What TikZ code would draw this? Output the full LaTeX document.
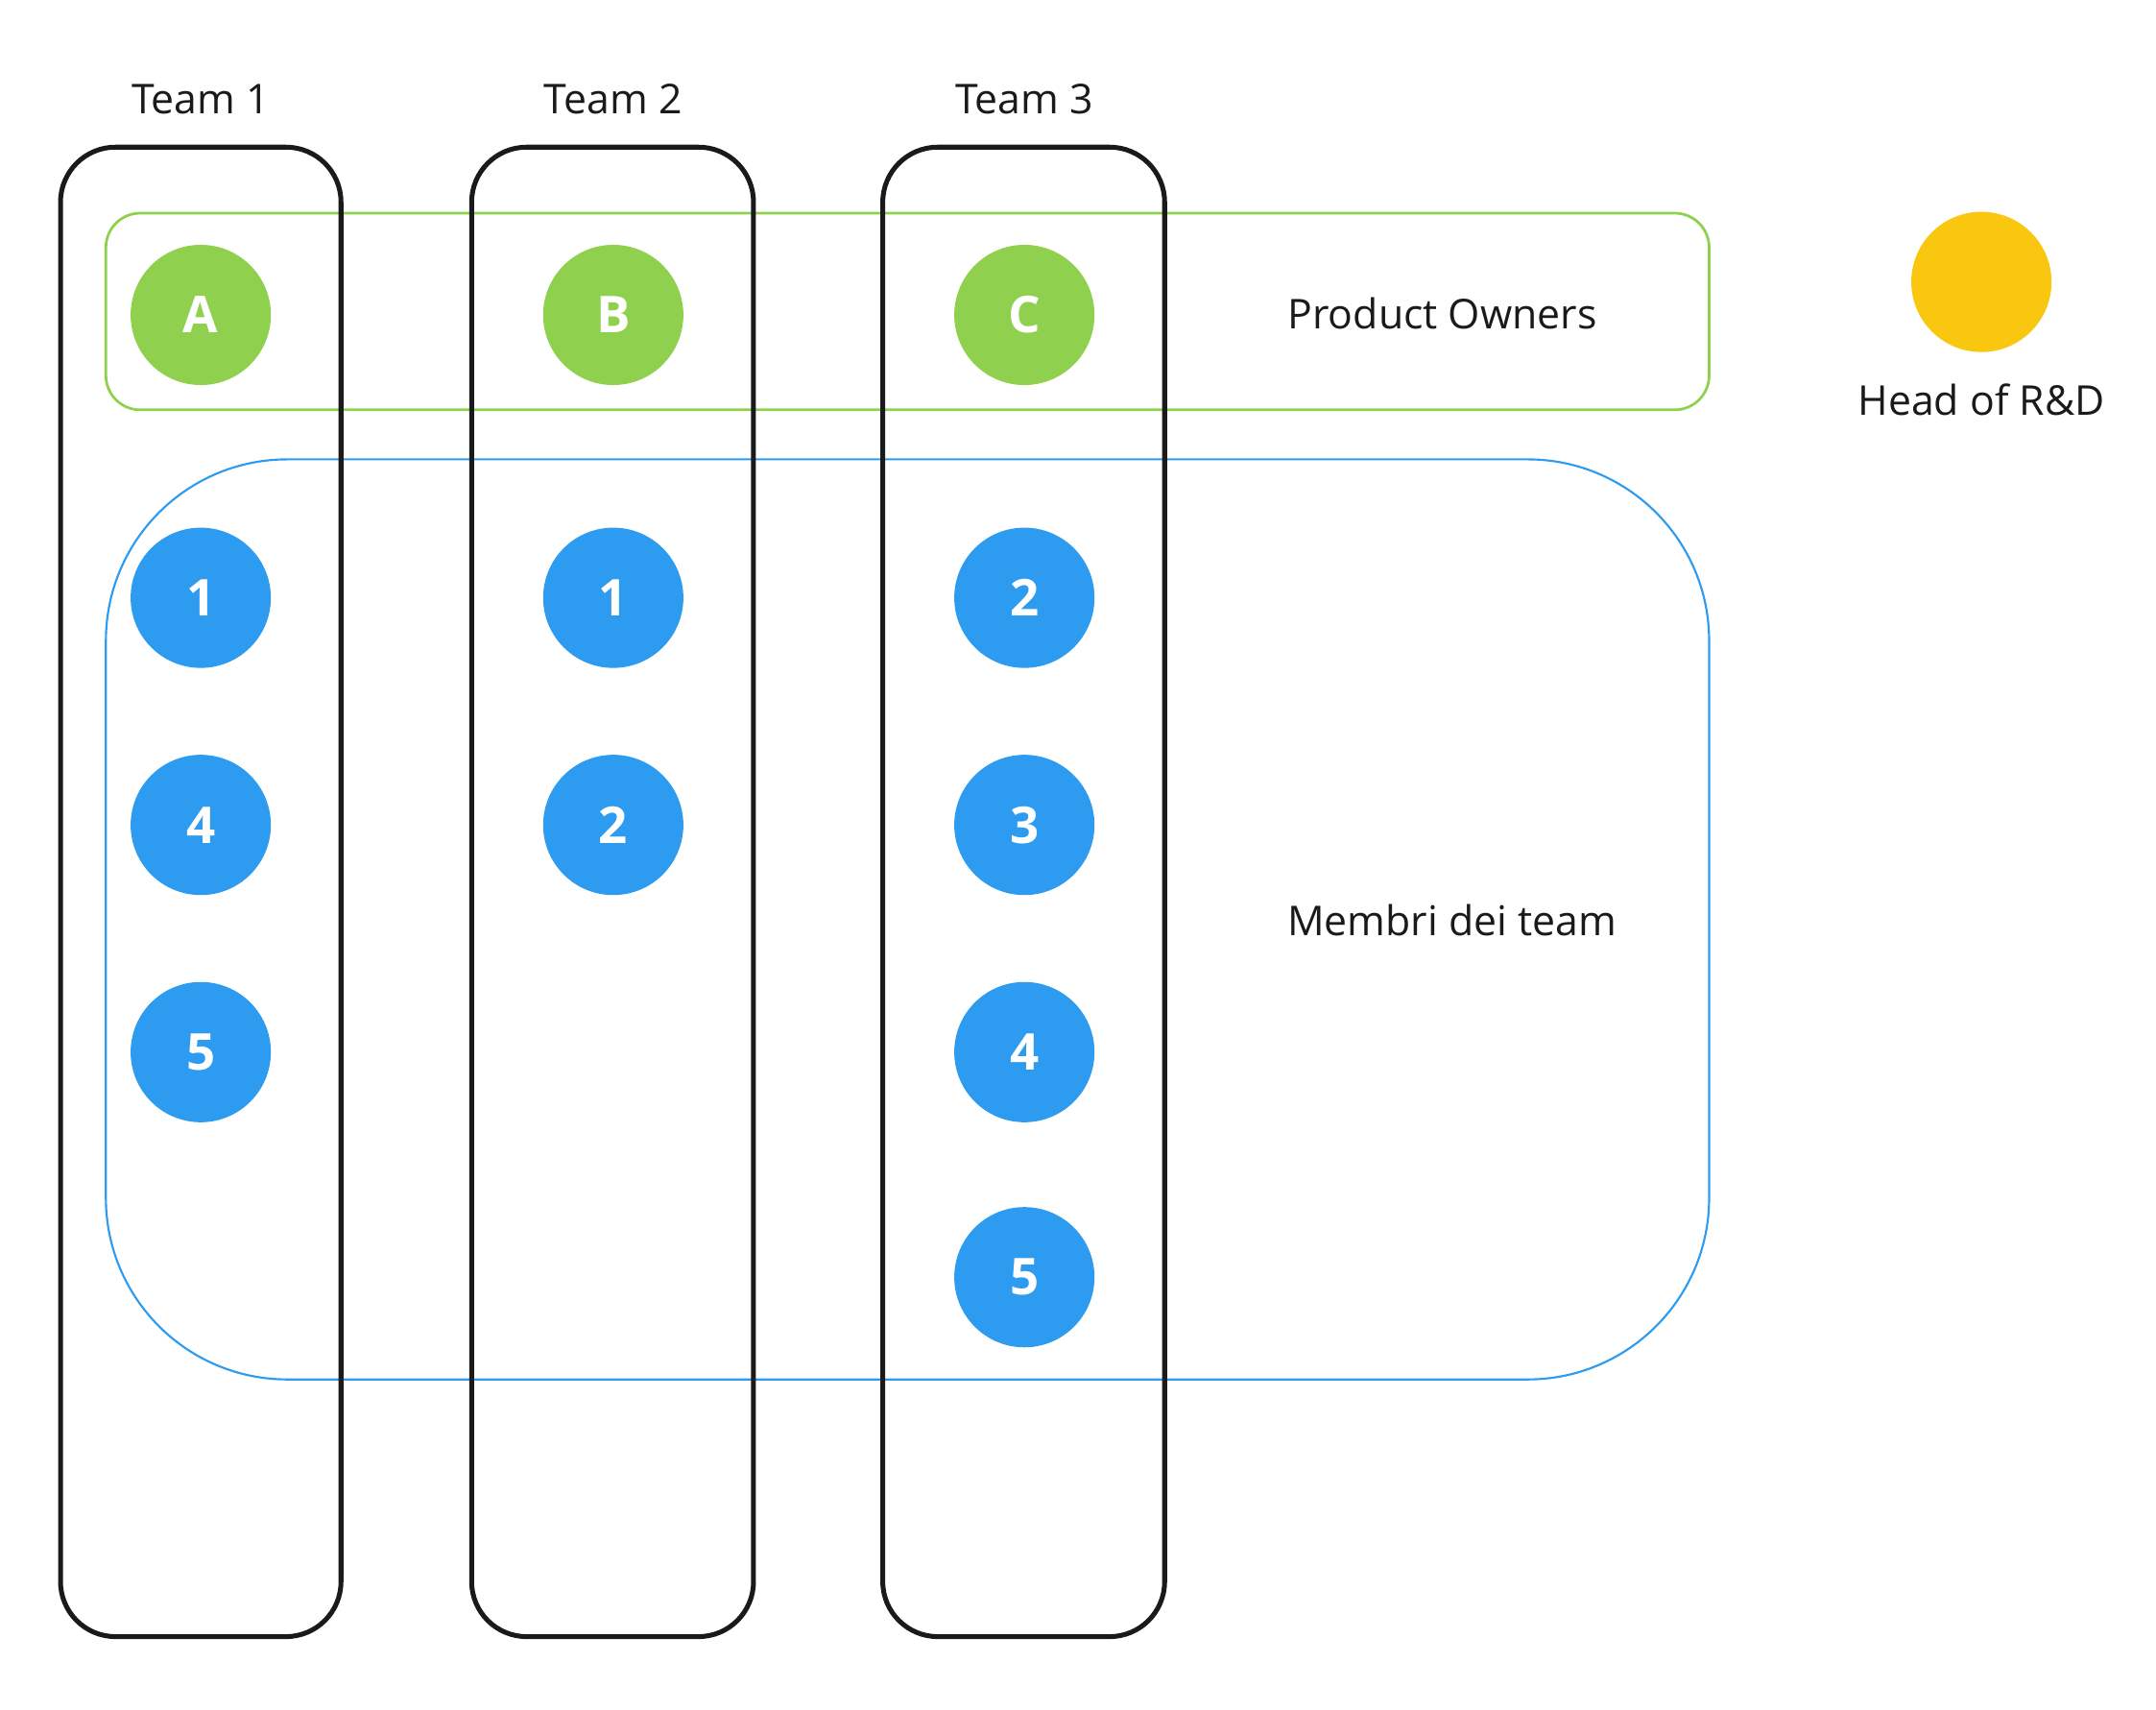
\documentclass[tikz,border=0pt]{standalone}
\usepackage{fontspec}
\setmainfont{Open Sans}
\usetikzlibrary{positioning}
\definecolor{poGreen}{HTML}{8FD14F}
\definecolor{teamBlue}{HTML}{2D9BF0}
\definecolor{headYellow}{HTML}{FAC710}
\definecolor{boxBlack}{HTML}{1A1A1A}
\tikzset{
        member/.style={circle, fill=teamBlue, minimum size=2.04cm, inner sep=0pt,
          text=white, font=\fontsize{21}{25}\selectfont\bfseries},
        owner/.style={member, fill=poGreen},
        head/.style={member, fill=headYellow},
        team box/.style={draw=boxBlack, line width=2pt, rounded corners=0.8cm},
        label text/.style={font=\fontsize{17}{20}\selectfont, text=boxBlack},
}
\begin{document}
\begin{tikzpicture}[x=0.02cm, y=-0.02cm]
      \useasboundingbox (0,0) rectangle (1568,1243);
      % GROUPS
      \draw[poGreen, line width=1.1pt, rounded corners=0.5cm] (77,155) rectangle (1243,298);
      \draw[teamBlue, line width=0.85pt, rounded corners=2.64cm] (77,334) rectangle (1243,1003);
      \node[label text] (po) at (1049,228) {Product Owners};
      \node[label text] (members) at (1056,669) {Membri dei team};

      % TEAM COLUMNS
      \draw[team box] (44,107) rectangle (248,1190);
      \draw[team box] (343,107) rectangle (548,1190);
      \draw[team box] (642,107) rectangle (847,1190);
      \node[label text] (team1) at (146,72) {Team 1};
      \node[label text] (team2) at (446,72) {Team 2};
      \node[label text] (team3) at (745,72) {Team 3};

      % PRODUCT OWNERS
      \node[owner] (ownerA) at (146,229) {A};
      \node[owner] (ownerB) at (446,229) {B};
      \node[owner] (ownerC) at (745,229) {C};

      % team 1 members
      \node[member, below=2.06cm of ownerA] (t1m1) {1};
      \node[member, below=1.25cm of t1m1] (t1m4) {4};
      \node[member, below=1.25cm of t1m4] (t1m5) {5};
      % team 2 members
      \node[member, below=2.06cm of ownerB] (t2m1) {1};
      \node[member, below=1.25cm of t2m1] (t2m2) {2};
      % team 3 members
      \node[member, below=2.06cm of ownerC] (t3m2) {2};
      \node[member, below=1.25cm of t3m2] (t3m3) {3};
      \node[member, below=1.25cm of t3m3] (t3m4) {4};
      \node[member, below=1.22cm of t3m4] (t3m5) {5};

      % HEAD OF R&D
      \node[head] (head) at (1441,205) {};
      \node[label text, below=0.33cm of head] (headlabel) {Head of R\&D};
\end{tikzpicture}
\end{document}
